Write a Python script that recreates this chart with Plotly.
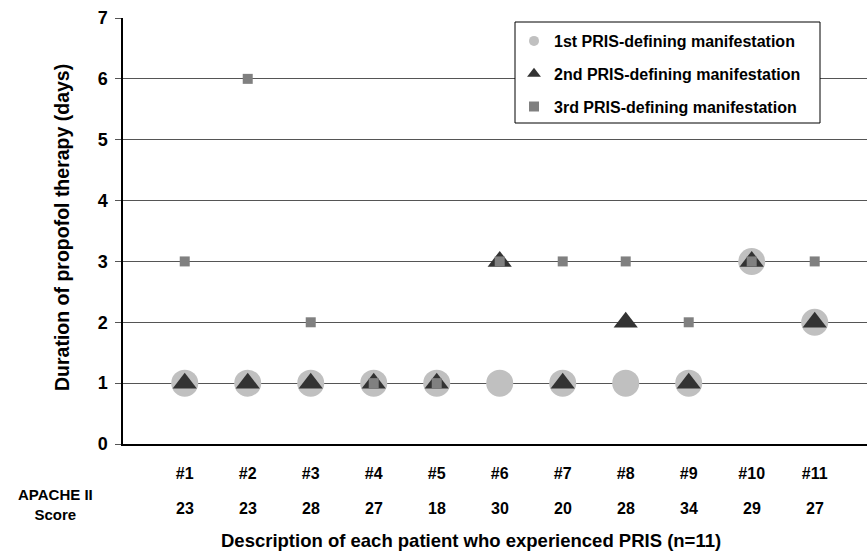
import plotly.graph_objects as go

patients = ["#1", "#2", "#3", "#4", "#5", "#6", "#7", "#8", "#9", "#10", "#11"]
apache_scores = [23, 23, 28, 27, 18, 30, 20, 28, 34, 29, 27]
first_manifest = [1, 1, 1, 1, 1, 1, 1, 1, 1, 3, 2]
second_manifest = [1, 1, 1, 1, 1, 3, 1, 2, 1, 3, 2]
third_manifest = [3, 6, 2, 1, 1, 3, 3, 3, 2, 3, 3]
series_names = ["1st PRIS-defining manifestation",
                "2nd PRIS-defining manifestation",
                "3rd PRIS-defining manifestation"]
y_ticks = [0, 1, 2, 3, 4, 5, 6, 7]

FONT = "Liberation Sans, Arial, sans-serif"
W, H = 867, 556
L, R, T, B = 123, 0, 18, 112
PL, PT = 123, 18           # plot-area left/top in page pixels
PW, PH = 867 - 123, 444 - 18


def px_x(x):
    return (x - PL) / PW


def px_y(y):
    return (444 - y) / PH


styles = [
    dict(symbol="circle", color="#C0C0C0", size=27, lsize=10),
    dict(symbol="triangle-up", color="#333333", size=21, lsize=12),
    dict(symbol="square", color="#808080", size=10, lsize=10),
]
values = [first_manifest, second_manifest, third_manifest]

fig = go.Figure()
for name, vals, st in zip(series_names, values, styles):
    fig.add_trace(go.Scatter(
        x=patients, y=vals, mode="markers", name=name, showlegend=False,
        marker=dict(symbol=st["symbol"], color=st["color"], size=st["size"],
                    line=dict(width=0)),
        cliponaxis=False,
    ))
for i, (name, st) in enumerate(zip(series_names, styles)):
    fig.add_trace(go.Scatter(
        x=[None], y=[None], mode="markers", name=name, legendgroup=f"g{i}",
        marker=dict(symbol=st["symbol"], color=st["color"], size=st["lsize"],
                    line=dict(width=0)),
    ))

annotations = []
for p, s in zip(patients, apache_scores):
    annotations.append(dict(x=p, y=0, xref="x", yref="paper", yanchor="middle",
                            yshift=-64, text=str(s), showarrow=False,
                            font=dict(size=16, family=FONT, color="#000", weight="bold")))
annotations.append(dict(x=px_x(55), y=px_y(504), xref="paper", yref="paper",
                        xanchor="center", yanchor="middle", align="center",
                        text="APACHE II<br>Score", showarrow=False,
                        font=dict(size=15, family=FONT, color="#000", weight="bold")))
annotations.append(dict(x=px_x(471), y=px_y(540), xref="paper", yref="paper",
                        yanchor="middle", xanchor="center",
                        text="Description of each patient who experienced PRIS (n=11)",
                        showarrow=False,
                        font=dict(size=18.5, family=FONT, color="#000", weight="bold")))
annotations.append(dict(x=px_x(62), y=px_y(228), xref="paper", yref="paper",
                        xanchor="center", yanchor="middle", textangle=-90,
                        text="Duration of propofol therapy (days)", showarrow=False,
                        font=dict(size=19.5, family=FONT, color="#000", weight="bold")))

shapes = [dict(type="rect", xref="paper", yref="paper",
               x0=px_x(515), x1=px_x(820), y0=px_y(123), y1=px_y(22),
               fillcolor="white", line=dict(color="#000", width=1), layer="above")]

fig.update_layout(
    width=W, height=H,
    margin=dict(l=L, r=R, t=T, b=B, pad=0),
    paper_bgcolor="white", plot_bgcolor="white",
    font=dict(family=FONT, color="#000", weight="bold"),
    showlegend=True,
    legend=dict(x=px_x(514), y=px_y(24),
                xanchor="left", yanchor="top",
                bgcolor="rgba(0,0,0,0)", borderwidth=0,
                font=dict(size=16, family=FONT, color="#000", weight="bold"),
                traceorder="grouped", tracegroupgap=9, itemwidth=30),
    xaxis=dict(type="category", categoryorder="array", categoryarray=patients,
               range=[-0.98, 10.83], showgrid=False, showline=True,
               linecolor="#000", linewidth=1.5, ticks="", zeroline=False,
               tickfont=dict(size=16, family=FONT, color="#000", weight="bold"),
               ticklabelstandoff=14),
    yaxis=dict(range=[0, 7], tickvals=y_ticks, showgrid=True, gridcolor="#555",
               gridwidth=1.3, showline=True, linecolor="#000", linewidth=1.5,
               ticks="outside", ticklen=6, tickcolor="#555", zeroline=False,
               tickfont=dict(size=18, family=FONT, color="#000", weight="bold"),
               ticklabelstandoff=4),
    annotations=annotations,
    shapes=shapes,
)

fig.write_html("out.html", config={"displayModeBar": False},
               post_script="document.body.style.margin='0';document.body.style.overflow='hidden';")
